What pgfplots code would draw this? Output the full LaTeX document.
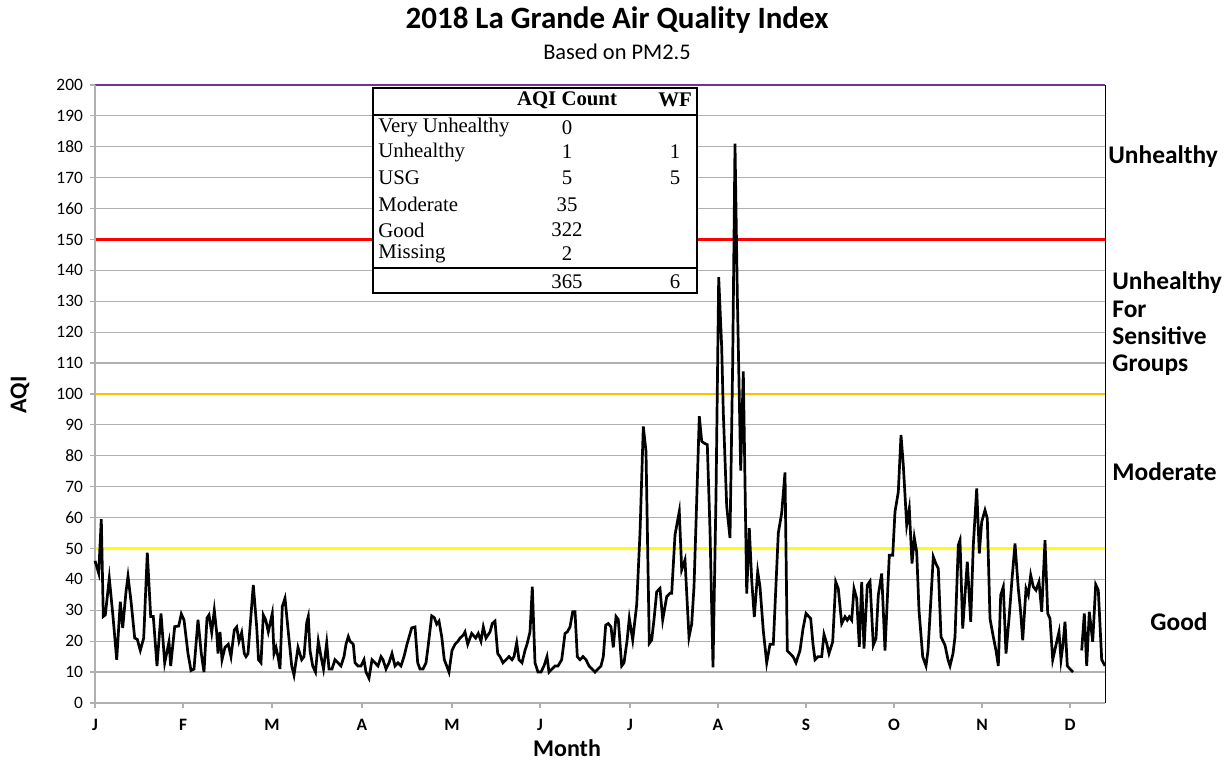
\documentclass[border=0pt]{standalone}
\usepackage{pgfplots}
\pgfplotsset{compat=1.18}
\usepackage{fontspec}
\setmainfont{Carlito}
\newfontfamily\tnr{Liberation Serif}
\definecolor{aqiyellow}{HTML}{FFFF00}
\definecolor{aqiorange}{HTML}{FFC000}
\definecolor{aqired}{HTML}{FF0000}
\definecolor{aqipurple}{HTML}{7030A0}
\definecolor{gridgray}{HTML}{B0B0B0}

\begin{document}
\begin{tikzpicture}
\begin{axis}[
    scale only axis,
    width=505pt, height=309pt,
    xmin=0, xmax=1010, ymin=0, ymax=200,
    clip=false,
    axis line style={draw=none},
    ytick={0,10,...,200},
    xtick={0,88,177,267,357,445,535,623,711,799,887,975},
    xticklabels={J,F,M,A,M,J,J,A,S,O,N,D},
    ymajorgrids,
    grid style={gridgray, line width=0.6pt},
    tick pos=left,
    tick align=outside,
    major tick length=2.5pt,
    tick style={gridgray, line width=0.6pt},
    /pgf/number format/assume math mode=true,
    yticklabel style={font=\fontsize{8.7}{10}\selectfont},
    xticklabel style={font=\fontsize{8.7}{10}\selectfont\bfseries, yshift=-2pt},
]

% threshold lines
\addplot[aqiyellow, line width=1.1pt] coordinates {(0,50) (1010,50)};
\addplot[aqiorange, line width=1.1pt] coordinates {(0,100) (1010,100)};
\addplot[aqired, line width=1.1pt] coordinates {(0,150) (1010,150)};
\addplot[aqipurple, line width=1.3pt] coordinates {(0,200) (1010,200)};

% axis frame
\draw[gridgray, line width=0.6pt] (axis cs:0,200) -- (axis cs:0,0) -- (axis cs:1010,0);
\draw[black, line width=0.5pt] (axis cs:1010,0) -- (axis cs:1010,200);

% daily AQI (x = position along the year, 1010 units)
\addplot[black, line width=1.35pt, unbounded coords=jump] table {
x y
0 46
3.7 42
6.3 59.5
8.3 28
10.3 28.5
14.3 40.4
18 28
21.7 14
25.3 32.8
27.7 24.3
31 36
33 41
36 33
39.7 21
42.3 20.6
45.3 17
48.7 21
52.3 48.6
55.7 28
58.3 28
62 12
66 29
69.7 13
74 19.8
75.7 12
79.7 24.7
83.7 24.9
86.3 28.8
89 26.9
93 16
96 10.5
99 11
103 26.9
106.3 16
109 10
112 27.5
114 28.5
116.7 22.8
119.3 30
121.7 22.8
123 16
125 23
127 14
130 18
133.3 19
136 15
139.3 23.6
141.7 24.6
144 20
146.7 22.8
149.3 16
151 15
153 16
158.3 38.2
161.7 24.6
163.5 14
166 13
168.3 28.5
170.7 26.9
173.3 23
177.3 29
179 16
181 18
183 15
185 11
187.3 31.2
190 33.9
193.3 23
196.7 12
199 9
203 18
206.7 14
209 15
211.7 26
213.3 28
215 17
217.7 12
220.5 10
223.3 20
226 15
228.5 11
231.7 19.5
234 11
237 11
240 14
243 13
246 12
249 15
251 19
253.3 21.5
255 20
258.3 19
260 13
263 12
266 12
269 14
271 10
274 8
277 14
280 13
283 12
286 15
288 14
291 11
294 13
297 16
300 12
303 13
306 12
309 15
312 19
316.7 24.3
320 24.6
322.7 13
325 11
328 11
331 13
333 18
336.7 28.2
339.3 27.6
341.7 25.5
344 26.5
346.7 21.5
349.3 14
351.7 12
354 10
357 17
360 19
363 20
365 21
368.3 22
370 23
372.7 19
376.7 22.5
380.7 21
383.3 22.5
386 20
388.3 24.6
391 21
395 23
397.3 25.7
400 26.5
402.7 16
405 15
408 13
411 14
414 15
417 14
419 15
421.7 19.5
424 14
427 13
430 17
432 19
435 23
437.3 37.6
440 13
443 10
446 10
449 12
452 15
454 10
457 11
460 12
463 12
466.7 14
470 22.5
472.3 23
475 24.6
477.7 29.5
480 29.5
482.3 15
485 14
488 15
491 14
494 12
497 11
500 10
503 11
506 12
508.3 15
510.7 25.2
513.3 25.7
516 24.6
518.3 18
521 28
523.3 27
526.7 12
529 13
532 20
534.3 27.4
537.7 20.4
541.7 31.8
545 55
548.3 89.5
551 81.4
554.3 19.3
556.7 20.4
559 27
561.7 36
565 37.1
567.7 26.9
571.7 34.4
575 35.5
576.7 35.5
580 54.4
584.3 62
586.7 43.1
590 46.3
594 21.3
596.7 25.6
599 37.6
601 58
604.3 92.8
606.7 84.7
609 84.1
612.3 83.6
615 56
618 11.5
621 67
623.7 137.8
626.7 115
628.3 94
631.7 63.7
635 53.4
637.7 110.6
640 181
642.3 132.4
645.7 75.2
648.3 107.3
651.7 35.4
654.3 56.6
656.7 39.8
659.3 27.8
662.7 42.5
665 37.6
668.3 23.4
671.7 13
675 19
678.3 19
683.3 55
686.7 61.5
690 74.6
692.3 16.9
695 16
698 15
701 13
705 17
708 24
711 29
715.7 27.3
718 19
720 14
723 15
726.7 15
729 22.2
731.7 19.3
734 16
737.7 19.8
740.7 39.2
743.3 37
746.7 25.7
750 27.9
752.3 26.8
754.3 27.9
756.7 26.8
759 37
761.7 33.8
764.3 18.2
766.7 39.2
769 17.6
772.3 38.1
775 39.4
778.3 18.7
781 20.9
783.3 34.9
786.7 41.9
790 17
794.3 47.8
797.7 47.8
800 61.9
803.3 68.3
806 86.7
808.3 77
811.7 57.6
814.3 62.9
817 45.1
819.3 53.5
821.7 48.9
824 30
827.7 15
831 12
833 17
835 28.4
838.3 47.3
841 45
843.3 43.5
846 21.4
850 18.7
853 14
855 12
858 16
860 21.4
863.3 51.1
865 52.7
867.7 24.1
870 35
872.3 45.7
875.7 26.3
878.3 51.1
881.7 69.4
884.3 48.4
886.7 58.6
890 62.4
892.3 59.7
895 27.3
898.3 21.4
901 17
903.3 12
905.7 34.9
908.3 37.6
911 16
914.3 28.4
917 40
920 51.6
923.3 37
925.5 30
927.7 20.3
931 37
933.3 34.9
935.7 41.4
938.3 37.6
941 36.5
944 39.2
946.7 29.5
950 52.7
952.7 29
955 27.3
957.7 14
961.7 19.8
964 23
966 14
968 19
970 26.3
972.3 12
975 11
978 10
980 nan
986.7 17
989.3 29
991.7 12
994.3 29.5
997.7 19.8
1000.7 38.3
1003.3 36.5
1006.7 14
1010 12
};

% summary table
\draw[black, fill=white, line width=1pt] (axis cs:278,199) rectangle (axis cs:602,132.7);
\draw[black, line width=1pt] (axis cs:278,190.3) -- (axis cs:602,190.3);
\draw[black, line width=1pt] (axis cs:278,140.8) -- (axis cs:602,140.8);
\begin{scope}[every node/.style={font=\tnr\fontsize{10.4}{12}\selectfont, inner sep=0pt}]
\node at (axis cs:472,195.1) {\bfseries AQI Count};
\node at (axis cs:580,195.1) {\bfseries WF};
\node[anchor=west] at (axis cs:283,186.1) {Very Unhealthy};
\node[anchor=west] at (axis cs:283,178.3) {Unhealthy};
\node[anchor=west] at (axis cs:283,169.9) {USG};
\node[anchor=west] at (axis cs:283,161.2) {Moderate};
\node[anchor=west] at (axis cs:283,153.1) {Good};
\node[anchor=west] at (axis cs:283,145.3) {Missing};
\node at (axis cs:472,186.1) {0};
\node at (axis cs:472,178.3) {1};
\node at (axis cs:472,169.9) {5};
\node at (axis cs:472,161.2) {35};
\node at (axis cs:472,153.1) {322};
\node at (axis cs:472,145.3) {2};
\node at (axis cs:472,136.2) {365};
\node at (axis cs:580,178.3) {1};
\node at (axis cs:580,169.9) {5};
\node at (axis cs:580,136.2) {6};
\end{scope}

% category labels on the right
\begin{scope}[every node/.style={font=\fontsize{12.7}{13.7}\selectfont\bfseries, inner sep=0pt, anchor=west, align=left}]
\node at (axis cs:1013,176.7) {Unhealthy};
\node at (axis cs:1017,122.7) {Unhealthy\\For\\Sensitive\\Groups};
\node at (axis cs:1017,74.8) {Moderate};
\node at (axis cs:1055,26.2) {Good};
\end{scope}

% titles and axis labels
\node[font=\fontsize{15.5}{18}\selectfont\bfseries] at (axis cs:522,221) {2018 La Grande Air Quality Index};
\node[font=\fontsize{11.2}{13}\selectfont] at (axis cs:522,210.7) {Based on PM2.5};
\node[font=\fontsize{12}{14}\selectfont\bfseries, rotate=90] at (axis cs:-75,99.7) {AQI};
\node[font=\fontsize{12}{14}\selectfont\bfseries] at (axis cs:472,-14.6) {Month};

% page frame matching the reference proportions
\path (axis cs:-95,-19.4) rectangle (axis cs:1132,227.5);
\end{axis}
\end{tikzpicture}
\end{document}
